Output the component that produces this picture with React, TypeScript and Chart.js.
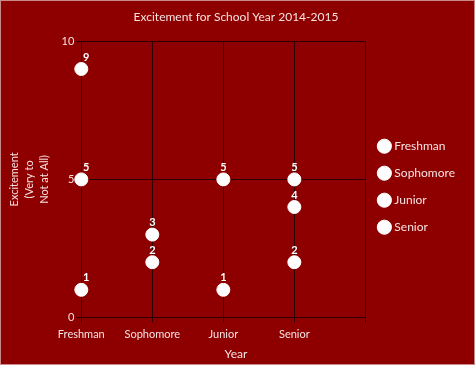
import React, { useEffect, useRef } from 'react';
import { Chart, registerables } from 'chart.js';

Chart.register(...registerables);

const categories = ['Freshman', 'Sophomore', 'Junior', 'Senior', ''];
const seriesNames = ['Freshman', 'Sophomore', 'Junior', 'Senior'];
const freshmanValues = [9, 3, 5, 5, null];
const sophomoreValues = [5, 2, 1, 4, null];
const juniorValues = [1, null, null, 2, null];
const seniorValues = [null, null, null, null, null];
const yTicks = [0, 5, 10];

const BG = '#8e0000';
const TEXT = '#f6e2e2';
const GRID = '#2a0000';
const FONT = "'Comic Sans MS', Lato, sans-serif";

const bgPlugin = {
  id: 'bg',
  beforeDraw(chart: any) {
    const { ctx, width, height } = chart;
    ctx.save();
    ctx.fillStyle = BG;
    ctx.fillRect(0, 0, width, height);
    ctx.strokeStyle = '#c98a8a';
    ctx.lineWidth = 1;
    ctx.strokeRect(0.5, 0.5, width - 1, height - 1);
    ctx.restore();
  },
};

const valueLabels = {
  id: 'valueLabels',
  afterDatasetsDraw(chart: any) {
    const { ctx } = chart;
    ctx.save();
    ctx.fillStyle = '#ffffff';
    ctx.font = `bold 11px ${FONT}`;
    ctx.textAlign = 'center';
    ctx.textBaseline = 'middle';
    chart.data.datasets.forEach((ds: any, di: number) => {
      const meta = chart.getDatasetMeta(di);
      meta.data.forEach((pt: any, i: number) => {
        const v = ds.data[i];
        if (v === null || v === undefined) return;
        const dx = i === 0 ? 5 : 0;
        ctx.fillText(String(v), pt.x + dx, pt.y - 12);
      });
    });
    ctx.restore();
  },
};

export default function App() {
  const ref = useRef<HTMLCanvasElement>(null);
  useEffect(() => {
    document.body.style.margin = '0';
    const seriesData = [freshmanValues, sophomoreValues, juniorValues, seniorValues];
    const chart = new Chart(ref.current!, {
      type: 'line',
      data: {
        labels: categories,
        datasets: seriesNames.map((name, i) => ({
          label: name,
          data: seriesData[i],
          showLine: false,
          backgroundColor: '#ffffff',
          borderColor: '#ffffff',
          pointBackgroundColor: '#ffffff',
          pointBorderColor: '#ffffff',
          pointRadius: 6.5,
          pointStyle: 'circle',
        })),
      },
      options: {
        responsive: false,
        animation: false,
        layout: { padding: { left: 7, right: 10, top: 0, bottom: 0 } },
        plugins: {
          title: {
            display: true,
            text: 'Excitement for School Year 2014-2015',
            color: TEXT,
            font: { family: FONT, size: 12, weight: 'normal' },
            padding: { top: 10, bottom: 17 },
          },
          subtitle: {
            display: true,
            position: 'bottom',
            text: 'Year',
            color: TEXT,
            font: { family: FONT, size: 12, weight: 'normal' },
            padding: { top: 1, bottom: 4 },
          },
          legend: {
            position: 'right',
            align: 'center',
            title: { display: true, text: ' ', font: { size: 7 }, padding: 0 },
            labels: {
              usePointStyle: true,
              pointStyle: 'circle',
              boxWidth: 8,
              boxHeight: 10,
              padding: 15,
              color: TEXT,
              font: { family: FONT, size: 12 },
            },
          },
          tooltip: { enabled: false },
        },
        scales: {
          x: {
            type: 'category',
            offset: false,
            grid: { color: GRID, lineWidth: 1, tickLength: 5, drawTicks: true },
            border: { color: GRID },
            ticks: { color: TEXT, font: { family: FONT, size: 11 }, padding: 5, maxRotation: 0, autoSkip: false },
          },
          y: {
            min: 0,
            max: 10,
            afterBuildTicks: (axis: any) => {
              axis.ticks = yTicks.map((v) => ({ value: v }));
            },
            grid: { color: GRID, lineWidth: 1, tickLength: 5 },
            border: { color: GRID },
            ticks: { color: TEXT, font: { family: FONT, size: 11 }, padding: 2 },
            title: {
              display: true,
              text: ['Excitement', '(Very to', 'Not at All)'],
              color: TEXT,
              font: { family: FONT, size: 11, lineHeight: 1.35 },
              padding: { top: 0, bottom: 8 },
            },
          },
        },
      },
      plugins: [bgPlugin, valueLabels],
    });
    return () => chart.destroy();
  }, []);
  return (
    <div style={{ width: 475, height: 365 }}>
      <canvas ref={ref} width={475} height={365} />
    </div>
  );
}
